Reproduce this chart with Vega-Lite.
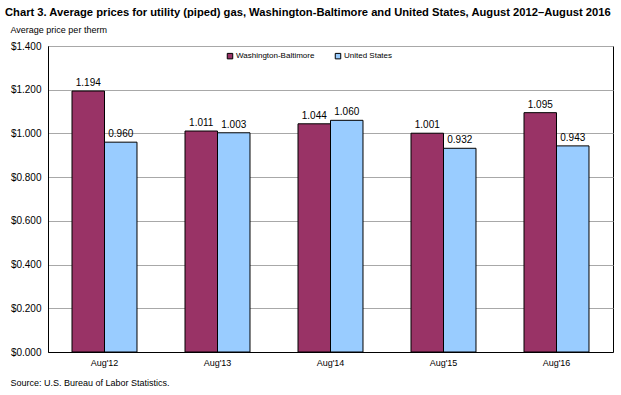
{
  "$schema": "https://vega.github.io/schema/vega-lite/v6.json",
  "autosize": "none",
  "width": 565,
  "height": 306,
  "padding": {"left": 48, "top": 46, "right": 8, "bottom": 43},
  "background": "white",
  "config": {
    "font": "Liberation Sans",
    "view": {"stroke": "black", "strokeWidth": 1}
  },
  "title": {
    "text": "Chart 3. Average prices for utility (piped) gas, Washington-Baltimore and United States, August 2012\u2013August 2016",
    "anchor": "start",
    "frame": "group",
    "dx": -43,
    "offset": 7,
    "fontSize": 11.2,
    "fontWeight": "bold",
    "font": "Liberation Sans",
    "color": "black"
  },
  "data": {
    "values": [
      {"period": "Aug'12", "series": "Washington-Baltimore", "price": 1.194},
      {"period": "Aug'12", "series": "United States", "price": 0.960},
      {"period": "Aug'13", "series": "Washington-Baltimore", "price": 1.011},
      {"period": "Aug'13", "series": "United States", "price": 1.003},
      {"period": "Aug'14", "series": "Washington-Baltimore", "price": 1.044},
      {"period": "Aug'14", "series": "United States", "price": 1.060},
      {"period": "Aug'15", "series": "Washington-Baltimore", "price": 1.001},
      {"period": "Aug'15", "series": "United States", "price": 0.932},
      {"period": "Aug'16", "series": "Washington-Baltimore", "price": 1.095},
      {"period": "Aug'16", "series": "United States", "price": 0.943}
    ]
  },
  "encoding": {
    "x": {
      "field": "period",
      "type": "nominal",
      "sort": null,
      "scale": {"paddingInner": 0.425, "paddingOuter": 0.2125},
      "axis": {
        "title": "Source: U.S. Bureau of Labor Statistics.",
        "titleX": -38,
        "titleY": 26,
        "titleAnchor": "start",
        "titleAlign": "left",
        "titleBaseline": "top",
        "titleFontWeight": "normal",
        "titleFontSize": 9,
        "titleColor": "black",
        "labelAngle": 0,
        "labelFontSize": 9,
        "labelColor": "black",
        "labelPadding": 6,
        "ticks": false,
        "domainColor": "black"
      }
    },
    "xOffset": {
      "field": "series",
      "type": "nominal",
      "sort": ["Washington-Baltimore", "United States"],
      "scale": {"paddingInner": 0, "paddingOuter": 0}
    },
    "y": {
      "field": "price",
      "type": "quantitative",
      "scale": {"domain": [0, 1.4]},
      "axis": {
        "values": [0, 0.2, 0.4, 0.6, 0.8, 1.0, 1.2, 1.4],
        "format": "$.3f",
        "title": "Average price per therm",
        "titleAngle": 0,
        "titleX": -38,
        "titleY": -17,
        "titleAlign": "left",
        "titleBaseline": "middle",
        "titleFontWeight": "normal",
        "titleFontSize": 9,
        "titleColor": "black",
        "labelFontSize": 10,
        "labelColor": "black",
        "labelPadding": 7,
        "ticks": false,
        "domainColor": "black",
        "gridColor": "#a8a8a8",
        "gridWidth": 1
      }
    }
  },
  "layer": [
    {
      "mark": {"type": "bar", "stroke": "black", "strokeWidth": 1},
      "encoding": {
        "color": {
          "field": "series",
          "type": "nominal",
          "sort": ["Washington-Baltimore", "United States"],
          "scale": {"domain": ["Washington-Baltimore", "United States"], "range": ["#993366", "#99ccff"]},
          "legend": {
            "title": null,
            "orient": "none",
            "direction": "horizontal",
            "legendX": 178,
            "legendY": 6,
            "symbolType": "square",
            "symbolSize": 30,
            "symbolStrokeColor": "black",
            "symbolStrokeWidth": 1,
            "labelFontSize": 8,
            "labelColor": "black",
            "labelOffset": 2,
            "columnPadding": 18
          }
        }
      }
    },
    {
      "mark": {"type": "text", "dy": -8, "fontSize": 10, "color": "black"},
      "encoding": {
        "text": {"field": "price", "type": "quantitative", "format": ".3f"}
      }
    }
  ]
}
